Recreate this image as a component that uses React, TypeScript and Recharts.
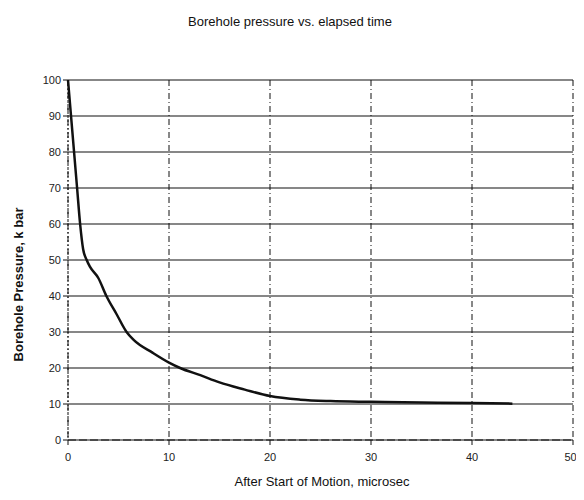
import React from 'react';
import { LineChart, Line, XAxis, YAxis, CartesianGrid } from 'recharts';

// Elapsed time after start of motion (microsec)
const times = [0, 0.3, 0.6, 0.9, 1.2, 1.5, 1.85, 2.2, 3.0, 3.8, 4.8, 5.8, 6.5, 8.4, 10, 11.1, 13.1, 15, 17.5, 20, 23, 26, 30, 35, 40, 44];
// Borehole pressure (k bar)
const pressures = [100, 90, 80, 70, 60, 53, 50, 48, 45, 40, 35, 30, 27.8, 24.2, 21.5, 20, 18, 16, 14, 12.2, 11.2, 10.8, 10.6, 10.4, 10.3, 10.1];

const xTicks = [0, 10, 20, 30, 40, 50];
const yTicks = [0, 10, 20, 30, 40, 50, 60, 70, 80, 90, 100];

const title = 'Borehole pressure vs. elapsed time';
const xLabel = 'After Start of Motion,  microsec';
const yLabel = 'Borehole Pressure,  k bar';

const data = times.map((t, i) => ({ t, p: pressures[i] }));

const font = '"Liberation Sans", Arial, sans-serif';
const tickStyle = { fontSize: 11, fill: '#222', fontFamily: font };

const App = () => {
  return (
    <div style={{ position: 'relative', width: 568, height: 484, fontFamily: font, color: '#111' }}>
      <div style={{ position: 'absolute', top: 6, left: 82, width: 400, textAlign: 'center', fontSize: 13 }}>
        {title}
      </div>
      <LineChart width={568} height={484} data={data} margin={{ top: 72, right: 3, bottom: 22, left: 20 }}>
        <CartesianGrid vertical={false} stroke="#111" strokeWidth={1.2} />
        <CartesianGrid horizontal={false} stroke="#111" strokeDasharray="6 3 1 3" />
        <XAxis
          dataKey="t"
          type="number"
          domain={[0, 50]}
          ticks={xTicks}
          tick={tickStyle}
          tickSize={5}
          tickMargin={8}
          height={30}
          axisLine={{ stroke: '#111', strokeDasharray: '8 3' }}
          tickLine={{ stroke: '#111' }}
        />
        <YAxis
          type="number"
          domain={[0, 100]}
          ticks={yTicks}
          tick={tickStyle}
          tickSize={5}
          width={40}
          axisLine={{ stroke: '#111', strokeDasharray: '2 2' }}
          tickLine={{ stroke: '#111' }}
        />
        <Line
          type="monotone"
          dataKey="p"
          stroke="#111"
          strokeWidth={2.5}
          dot={false}
          isAnimationActive={false}
        />
      </LineChart>
      <div style={{ position: 'absolute', top: 466, left: 114, width: 400, textAlign: 'center', fontSize: 13 }}>
        {xLabel}
      </div>
      <div
        style={{
          position: 'absolute',
          top: 269,
          left: -140,
          width: 300,
          textAlign: 'center',
          fontSize: 13,
          fontWeight: 'bold',
          transform: 'rotate(-90deg)',
        }}
      >
        {yLabel}
      </div>
    </div>
  );
};

export default App;
